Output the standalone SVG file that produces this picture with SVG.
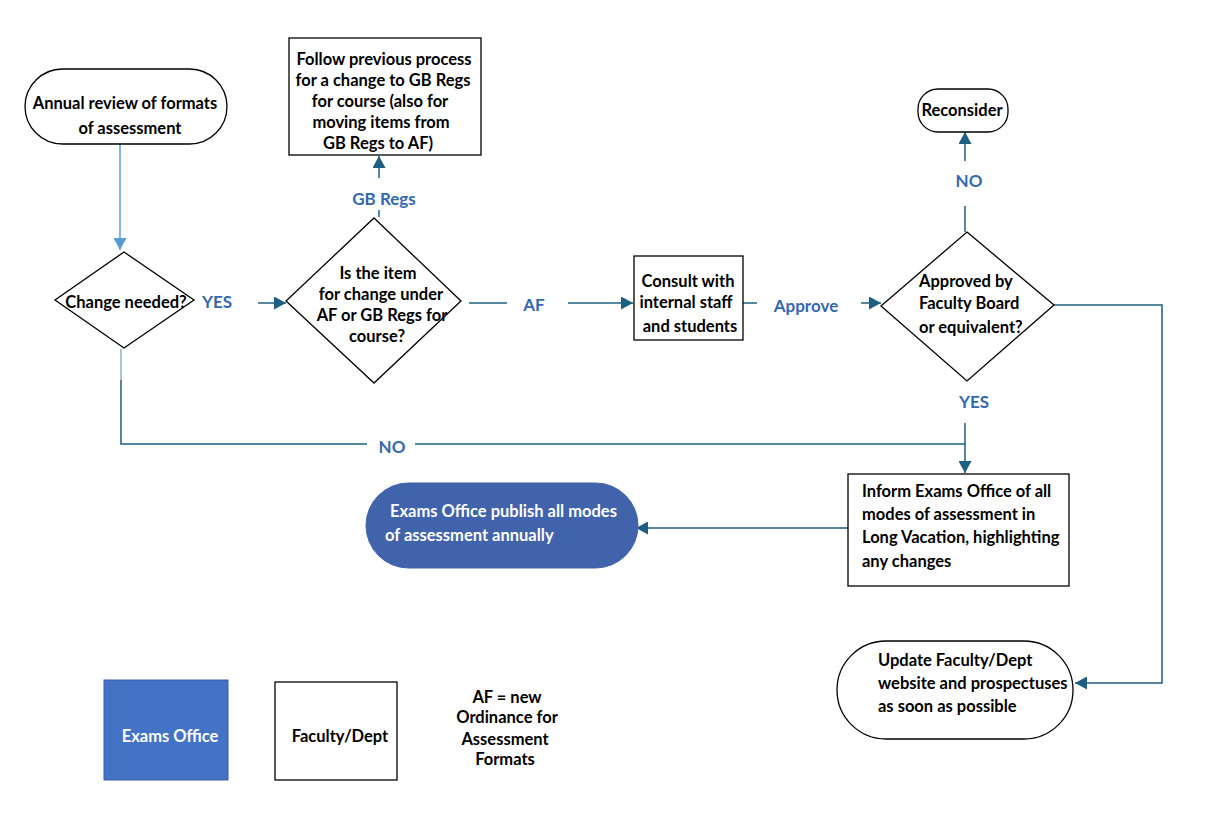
<svg xmlns="http://www.w3.org/2000/svg" width="1218" height="818" viewBox="0 0 1218 818">
<defs>
<style>
.node{fill:#fff;stroke:#000;stroke-width:1.3}
.blue{fill:#4163AC;stroke:#3F62AA;stroke-width:1}
.t{font-family:Lato,"Liberation Sans",sans-serif;font-weight:bold;font-size:16.5px;fill:#000}
.c{text-anchor:middle}
.w{fill:#fff}
.lbl{font-family:Lato,"Liberation Sans",sans-serif;font-weight:bold;font-size:17px;fill:#3468AE;text-anchor:middle}
.conn{fill:none;stroke:#1D5F82;stroke-width:1.5}
</style>
<marker id="ah" markerUnits="userSpaceOnUse" markerWidth="13" markerHeight="13" refX="12" refY="6.5" orient="auto">
<path d="M0,0 L12,6.5 L0,13 z" fill="#1D5F82"/>
</marker>
<marker id="ahl" markerUnits="userSpaceOnUse" markerWidth="13" markerHeight="13" refX="12" refY="6.5" orient="auto">
<path d="M0,0 L12,6.5 L0,13 z" fill="#5B9BD5"/>
</marker>
</defs>
<rect width="1218" height="818" fill="#fff"/>

<g id="connectors">
<path d="M120,144 V250" fill="none" stroke="#5B9BD5" stroke-width="1.5" marker-end="url(#ahl)"/>
<path class="conn" d="M258,303 H286" marker-end="url(#ah)"/>
<path class="conn" d="M379,217 V210"/>
<path class="conn" d="M379,178 V156" marker-end="url(#ah)"/>
<path class="conn" d="M469,303 H507"/>
<path class="conn" d="M568,303 H633" marker-end="url(#ah)"/>
<path class="conn" d="M743,303 H757"/>
<path class="conn" d="M861,303 H881" marker-end="url(#ah)"/>
<path class="conn" d="M965,232 V206"/>
<path class="conn" d="M965,161 V132" marker-end="url(#ah)"/>
<path class="conn" d="M1054,305 H1162 V683 H1075" marker-end="url(#ah)"/>
<path class="conn" d="M965,423 V473" marker-end="url(#ah)"/>
<path d="M121,349 V380" fill="none" stroke="#8DB0C8" stroke-width="1.5"/>
<path class="conn" d="M121,380 V444 H367"/>
<path class="conn" d="M415,444 H965"/>
<path class="conn" d="M848,528 H636" marker-end="url(#ah)"/>
<text class="lbl" x="217" y="308">YES</text>
<text class="lbl" x="384" y="205">GB Regs</text>
<text class="lbl" x="534" y="311">AF</text>
<text class="lbl" x="806" y="312">Approve</text>
<text class="lbl" x="969" y="187">NO</text>
<text class="lbl" x="974" y="408">YES</text>
<text class="lbl" x="392" y="453">NO</text>
</g>

<g id="start">
<rect class="node" x="25" y="69" width="202" height="75" rx="37.5"/>
<text class="t c" x="125" y="109">Annual review of formats</text>
<text class="t c" x="130" y="134">of assessment</text>
</g>

<g id="change-needed">
<polygon class="node" points="124,252 194,300 124,348 55,300"/>
<text class="t c" x="126" y="308">Change needed?</text>
</g>

<g id="af-or-gb">
<polygon class="node" points="374,218 461,301 374,383 286,301"/>
<text class="t c" x="378" y="279">Is the item</text>
<text class="t c" x="381" y="300">for change under</text>
<text class="t c" x="382" y="321">AF or GB Regs for</text>
<text class="t c" x="377" y="342">course?</text>
</g>

<g id="follow-previous">
<rect class="node" x="289" y="38" width="192" height="117"/>
<text class="t c" x="384" y="65">Follow previous process</text>
<text class="t c" x="383" y="86">for a change to GB Regs</text>
<text class="t c" x="380" y="107">for course (also for</text>
<text class="t c" x="381" y="128">moving items from</text>
<text class="t c" x="378" y="149">GB Regs to AF)</text>
</g>

<g id="consult">
<rect class="node" x="634" y="256" width="109" height="84"/>
<text class="t c" x="688" y="287">Consult with</text>
<text class="t c" x="686" y="308">internal staff</text>
<text class="t c" x="690" y="332">and students</text>
</g>

<g id="approved">
<polygon class="node" points="967,232 1054,305 967,381 881,306"/>
<text class="t" x="919" y="287">Approved by</text>
<text class="t" x="919" y="309">Faculty Board</text>
<text class="t" x="919" y="333">or equivalent?</text>
</g>

<g id="reconsider">
<rect class="node" x="918" y="89" width="90" height="43" rx="20"/>
<text class="t c" x="962" y="116">Reconsider</text>
</g>

<g id="inform">
<rect class="node" x="848" y="474" width="221" height="112"/>
<text class="t" x="862" y="497">Inform Exams Office of all</text>
<text class="t" x="862" y="520">modes of assessment in</text>
<text class="t" x="862" y="543">Long Vacation, highlighting</text>
<text class="t" x="862" y="567">any changes</text>
</g>

<g id="publish">
<rect class="blue" x="366" y="483" width="272" height="85" rx="42.5"/>
<text class="t w" x="390" y="517">Exams Office publish all modes</text>
<text class="t w" x="385" y="541">of assessment annually</text>
</g>

<g id="update">
<rect class="node" x="837" y="641" width="236" height="98" rx="49"/>
<text class="t" x="878" y="666">Update Faculty/Dept</text>
<text class="t" x="878" y="689">website and prospectuses</text>
<text class="t" x="878" y="712">as soon as possible</text>
</g>

<g id="legend-exams">
<rect x="104" y="680" width="124" height="100" fill="#4472C4" stroke="#3A5FA8" stroke-width="1"/>
<text class="t c w" x="170" y="742">Exams Office</text>
</g>

<g id="legend-faculty">
<rect class="node" x="275" y="682" width="122" height="98"/>
<text class="t c" x="340" y="742">Faculty/Dept</text>
</g>

<g id="legend-af">
<text class="t c" x="507" y="703">AF = new</text>
<text class="t c" x="507" y="723">Ordinance for</text>
<text class="t c" x="505" y="745">Assessment</text>
<text class="t c" x="505" y="765">Formats</text>
</g>
</svg>
